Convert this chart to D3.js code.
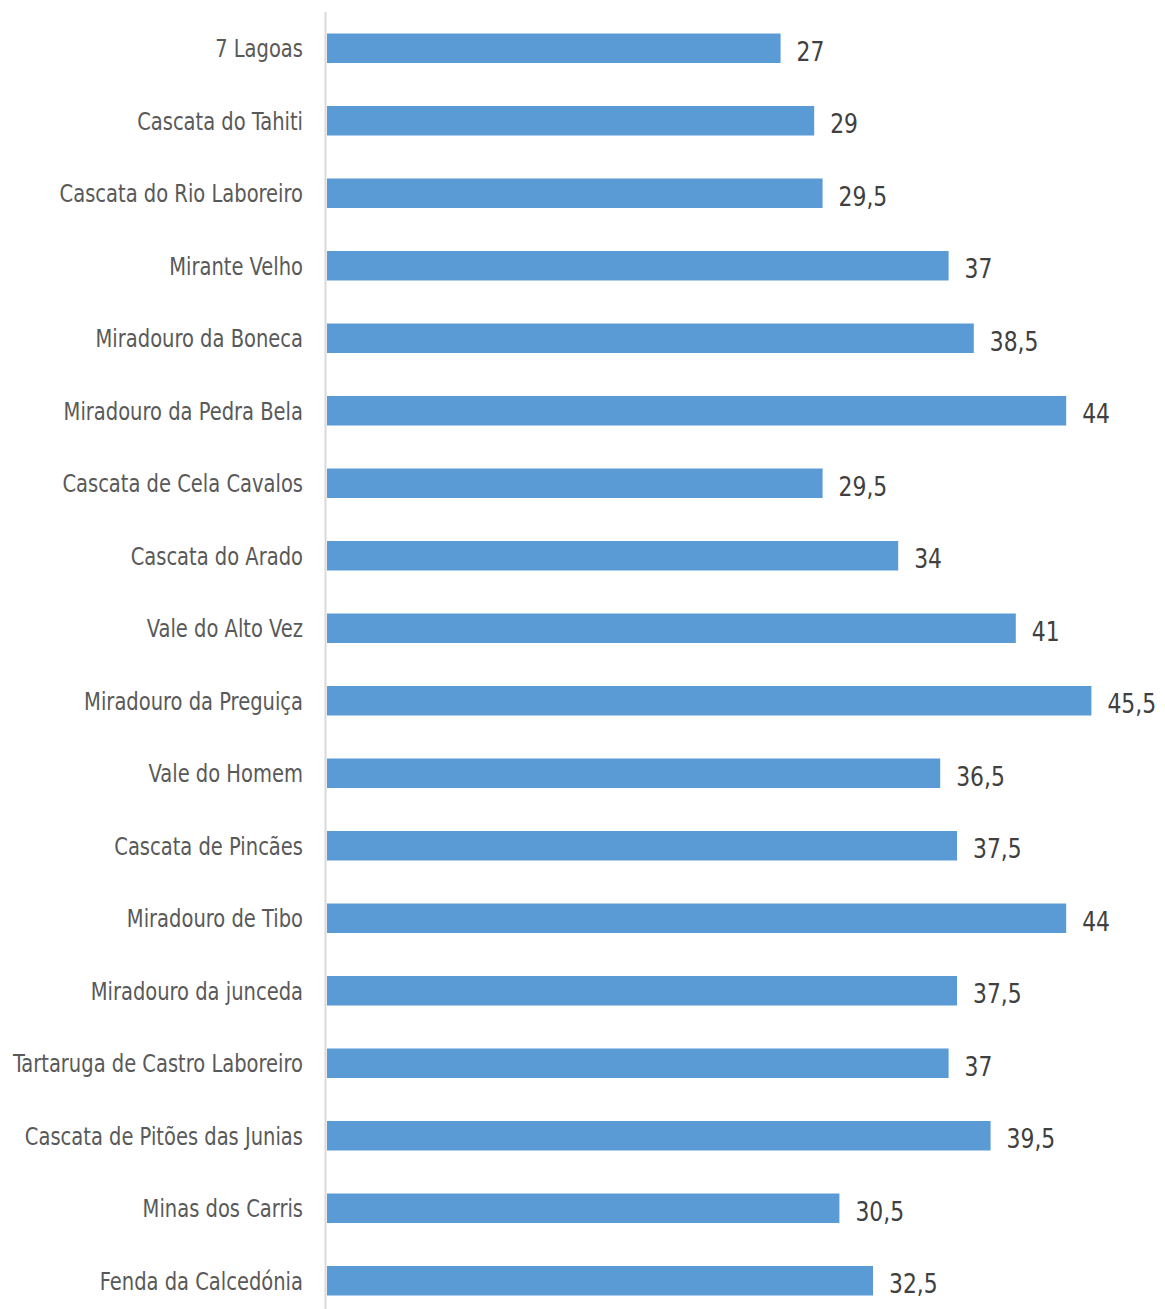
<!DOCTYPE html>
<html><head><meta charset="utf-8">
<script src="https://cdn.jsdelivr.net/npm/d3@7"></script>
<style>
body{margin:0;background:#fff;}
svg text{font-family:"DejaVu Sans Condensed","DejaVu Sans",sans-serif;}
</style></head>
<body><svg id="c" width="1165" height="1309"></svg>
<script>
const categories = ["7 Lagoas","Cascata do Tahiti","Cascata do Rio Laboreiro","Mirante Velho","Miradouro da Boneca","Miradouro da Pedra Bela","Cascata de Cela Cavalos","Cascata do Arado","Vale do Alto Vez","Miradouro da Preguiça","Vale do Homem","Cascata de Pincães","Miradouro de Tibo","Miradouro da junceda","Tartaruga de Castro Laboreiro","Cascata de Pitões das Junias","Minas dos Carris","Fenda da Calcedónia"];
const values = [27,29,29.5,37,38.5,44,29.5,34,41,45.5,36.5,37.5,44,37.5,37,39.5,30.5,32.5];

const svg = d3.select("#c");
const x = d3.scaleLinear().domain([0,50]).range([327,1167]);
const y = d3.scaleBand().domain(categories).range([12,1317]).paddingInner(0.593).paddingOuter(0.2965);

svg.append("line").attr("x1",325.5).attr("x2",325.5).attr("y1",12).attr("y2",1309)
  .attr("stroke","#d9d9d9").attr("stroke-width",2);

svg.selectAll("rect.bar").data(values).join("rect").attr("class","bar")
  .attr("x",x(0)).attr("y",(d,i)=>y(categories[i]))
  .attr("width",d=>x(d)-x(0)).attr("height",y.bandwidth())
  .attr("fill","#5b9bd5");

const fmt = v => String(v).replace(".",",");
svg.selectAll("text.val").data(values).join("text").attr("class","val")
  .attr("transform",(d,i)=>`translate(${x(d)+16},${y(categories[i])+y.bandwidth()/2+3}) scale(0.9,1)`)
  .attr("dy","0.35em").attr("fill","#404040").attr("font-size",27)
  .text(fmt);

svg.selectAll("text.cat").data(categories).join("text").attr("class","cat")
  .attr("transform",d=>`translate(303,${y(d)+y.bandwidth()/2}) scale(0.868,1)`)
  .attr("dy","0.35em").attr("text-anchor","end").attr("fill","#595959").attr("font-size",25)
  .text(d=>d);
</script></body></html>
